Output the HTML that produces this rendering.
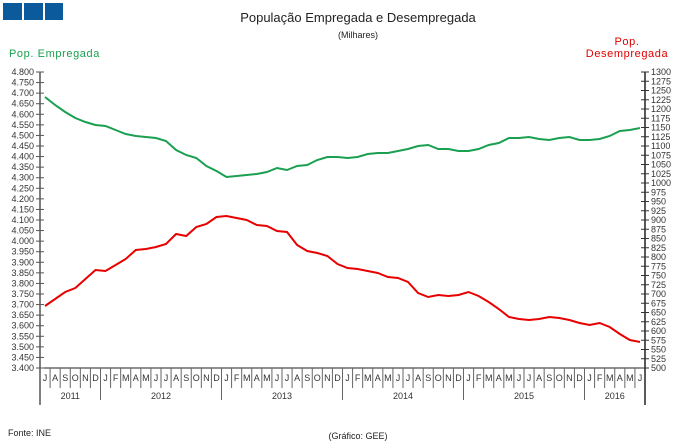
<!DOCTYPE html>
<html><head><meta charset="utf-8"><style>
body{margin:0;background:#fff}
svg{display:block;font-family:"Liberation Sans",sans-serif}
</style></head><body>
<svg id="s" width="680" height="446" viewBox="0 0 680 446" xmlns="http://www.w3.org/2000/svg">
<rect x="3" y="3" width="19" height="17" fill="#0a5a9c"/>
<rect x="24" y="3" width="19" height="17" fill="#0a5a9c"/>
<rect x="45" y="3" width="18" height="17" fill="#0a5a9c"/>
<text x="358" y="22" font-size="13" text-anchor="middle" fill="#222">População Empregada e Desempregada</text>
<text x="358" y="38" font-size="9" text-anchor="middle" fill="#222">(Milhares)</text>
<text x="9" y="57" font-size="11" fill="#1aa050" letter-spacing="0.6">Pop. Empregada</text>
<text x="627" y="45" font-size="11" fill="#e00000" text-anchor="middle" letter-spacing="0.6">Pop.</text>
<text x="627" y="57" font-size="11" fill="#e00000" text-anchor="middle" letter-spacing="0.6">Desempregada</text>
<text x="8" y="436" font-size="9" fill="#222">Fonte: INE</text>
<text x="358" y="439" font-size="9" text-anchor="middle" fill="#222">(Gráfico: GEE)</text>
<g id="g"></g>
</svg>
<script>
var g=document.getElementById('g'),h='';
var L=40,R=645,T=72,B=368;
h+='<line x1="'+L+'" y1="'+T+'" x2="'+L+'" y2="'+B+'" stroke="#555" stroke-width="1.5"/>';
h+='<line x1="'+R+'" y1="'+T+'" x2="'+R+'" y2="'+B+'" stroke="#222" stroke-width="1.5"/>';
h+='<line x1="'+L+'" y1="'+B+'" x2="'+R+'" y2="'+B+'" stroke="#222" stroke-width="1"/>';
for(var i=0;i<=28;i++){var y=T+i*(B-T)/28,v=(4.8-i*0.05).toFixed(3).replace('.', '.');
h+='<line x1="36" y1="'+y+'" x2="44" y2="'+y+'" stroke="#555"/>';
h+='<text x="34" y="'+(y+3)+'" font-size="9" text-anchor="end" fill="#333">'+v+'</text>';}
for(var i=0;i<=32;i++){var y=T+i*(B-T)/32;
h+='<line x1="641" y1="'+y+'" x2="649" y2="'+y+'" stroke="#333"/>';
h+='<text x="651" y="'+(y+3)+'" font-size="9" fill="#333">'+(1300-i*25)+'</text>';}
var m='JFMAMJJASOND',dx=(R-L)/60;
for(var i=0;i<60;i++){var mi=(i+6)%12,x=L+i*dx;
h+='<text x="'+(x+dx/2)+'" y="381" font-size="9" text-anchor="middle" fill="#333">'+m[mi]+'</text>';
if(i>0)h+='<line x1="'+x+'" y1="'+B+'" x2="'+x+'" y2="'+(mi==0?400:388)+'" stroke="#666"/>';}
h+='<line x1="'+R+'" y1="'+B+'" x2="'+R+'" y2="405" stroke="#222" stroke-width="1.5"/>';
h+='<line x1="'+L+'" y1="'+B+'" x2="'+L+'" y2="405" stroke="#555" stroke-width="1.5"/>';
var yrs=[[2011,0,6],[2012,6,18],[2013,18,30],[2014,30,42],[2015,42,54],[2016,54,60]];
yrs.forEach(function(a){h+='<text x="'+(L+(a[1]+a[2])/2*dx)+'" y="399" font-size="9" text-anchor="middle" fill="#333">'+a[0]+'</text>';});
var G=[97,105,112,118,122,125,126,130,134,136,137,138,141,150,155,158,166,171,177,176,175,174,172,168,170,166,165,160,157,157,158,157,154,153,153,151,149,146,145,149,149,151,151,149,145,143,138,138,137,139,140,138,137,140,140,139,136,131,130,128];
var Rd=[306,299,292,288,279,270,271,265,259,250,249,247,244,234,236,227,224,217,216,218,220,225,226,231,232,245,251,253,256,264,268,269,271,273,277,278,282,293,297,295,296,295,292,296,302,309,317,319,320,319,317,318,320,323,325,323,327,334,340,342];
function pl(a,c){return '<polyline fill="none" stroke="'+c+'" stroke-width="2" points="'+a.map(function(y,i){return (L+(i+0.5)*dx).toFixed(1)+','+y}).join(' ')+'"/>';}
h+=pl(G,'#1aa050')+pl(Rd,'#e80000');
g.innerHTML=h;
</script>
</body></html>
